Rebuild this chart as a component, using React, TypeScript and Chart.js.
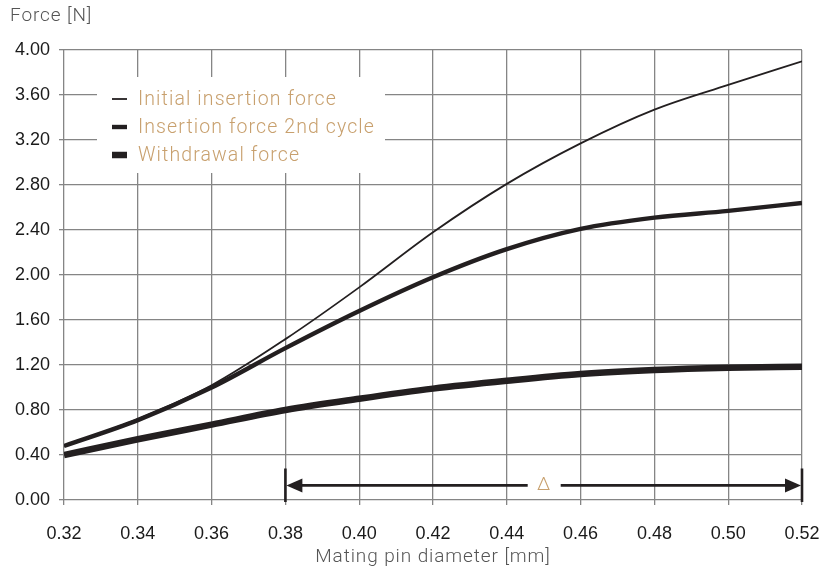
import React, { useEffect, useRef } from "react";
import { Chart, registerables } from "chart.js";

Chart.register(...registerables);

const xValues = [0.32, 0.34, 0.36, 0.38, 0.4, 0.42, 0.44, 0.46, 0.48, 0.5, 0.52];
const initialInsertion = [0.48, 0.72, 1.02, 1.43, 1.89, 2.38, 2.81, 3.17, 3.47, 3.69, 3.9];
const insertion2nd = [0.48, 0.71, 1.0, 1.35, 1.68, 1.98, 2.23, 2.41, 2.51, 2.57, 2.64];
const withdrawal = [0.4, 0.54, 0.67, 0.8, 0.9, 0.99, 1.06, 1.12, 1.155, 1.175, 1.185];

const seriesLabels = ["Initial insertion force", "Insertion force 2nd cycle", "Withdrawal force"];
const seriesWidths = [1.8, 4.4, 6.5];

const yTitle = "Force [N]";
const xTitle = "Mating pin diameter [mm]";
const deltaLabel = "Δ";
const deltaRange = [0.38, 0.52];
const deltaLevel = 0.13;
const deltaBarTop = 0.28;

const LINE = "#231f20";
const GRID = "#858585";
const TAN = "#c8a06e";
const LABEL_FONT = "Roboto, 'Liberation Sans', sans-serif";
const TICK_FONT = "'Liberation Sans', Arial, sans-serif";

const toPoints = (ys: number[]) => xValues.map((x, i) => ({ x, y: ys[i] }));

const overlayPlugin = {
  id: "overlay",
  beforeDatasetsDraw(chart: any) {
    const ctx = chart.ctx;
    const area = chart.chartArea;
    ctx.save();
    const bx = area.left + 33;
    const by = area.top + 27;
    ctx.fillStyle = "#ffffff";
    ctx.fillRect(bx, by, 288, 96);
    ctx.font = `300 19.5px ${LABEL_FONT}`;
    (ctx as any).letterSpacing = "1.1px";
    ctx.textBaseline = "middle";
    ctx.textAlign = "left";
    seriesLabels.forEach((lab, i) => {
      const y = by + 22 + i * 28;
      ctx.strokeStyle = LINE;
      ctx.lineWidth = seriesWidths[i];
      ctx.beginPath();
      ctx.moveTo(bx + 15, y);
      ctx.lineTo(bx + 30, y);
      ctx.stroke();
      ctx.fillStyle = TAN;
      ctx.fillText(lab, bx + 41, y + 1);
    });
    ctx.restore();
  },
  afterDatasetsDraw(chart: any) {
    const ctx = chart.ctx;
    const area = chart.chartArea;
    const xs = chart.scales.x;
    const ys = chart.scales.y;
    const x0 = xs.getPixelForValue(deltaRange[0]);
    const x1 = xs.getPixelForValue(deltaRange[1]);
    const yl = ys.getPixelForValue(deltaLevel);
    const yt = ys.getPixelForValue(deltaBarTop);
    const yb = ys.getPixelForValue(0) + 2;
    const mid = (x0 + x1) / 2;
    ctx.save();
    ctx.strokeStyle = LINE;
    ctx.fillStyle = LINE;
    ctx.lineWidth = 2.6;
    ctx.beginPath();
    ctx.moveTo(x0, yt);
    ctx.lineTo(x0, yb);
    ctx.moveTo(x1, yt);
    ctx.lineTo(x1, yb);
    ctx.stroke();
    ctx.lineWidth = 2.6;
    ctx.beginPath();
    ctx.moveTo(x0 + 14, yl);
    ctx.lineTo(mid - 16, yl);
    ctx.moveTo(mid + 17, yl);
    ctx.lineTo(x1 - 14, yl);
    ctx.stroke();
    ctx.beginPath();
    ctx.moveTo(x0 + 1, yl);
    ctx.lineTo(x0 + 17, yl - 7);
    ctx.lineTo(x0 + 17, yl + 7);
    ctx.closePath();
    ctx.fill();
    ctx.beginPath();
    ctx.moveTo(x1 - 1, yl);
    ctx.lineTo(x1 - 17, yl - 7);
    ctx.lineTo(x1 - 17, yl + 7);
    ctx.closePath();
    ctx.fill();
    ctx.fillStyle = TAN;
    ctx.font = `300 19px ${LABEL_FONT}`;
    ctx.textAlign = "center";
    ctx.textBaseline = "middle";
    ctx.fillText(deltaLabel, mid, yl);
    ctx.fillStyle = "#555555";
    ctx.font = `300 19px ${LABEL_FONT}`;
    (ctx as any).letterSpacing = "0.9px";
    ctx.textAlign = "left";
    ctx.textBaseline = "middle";
    ctx.fillText(yTitle, 10, 16);
    ctx.textAlign = "center";
    ctx.fillText(xTitle, (area.left + area.right) / 2, 557);
    ctx.restore();
  },
};

export default function App() {
  const ref = useRef<HTMLCanvasElement | null>(null);
  useEffect(() => {
    if (!ref.current) return;
    const chart = new Chart(ref.current, {
      type: "line",
      data: {
        datasets: [
          { label: seriesLabels[0], data: toPoints(initialInsertion), borderWidth: seriesWidths[0] },
          { label: seriesLabels[1], data: toPoints(insertion2nd), borderWidth: seriesWidths[1] },
          { label: seriesLabels[2], data: toPoints(withdrawal), borderWidth: seriesWidths[2] },
        ].map((d) => ({
          ...d,
          borderColor: LINE,
          backgroundColor: LINE,
          pointRadius: 0,
          cubicInterpolationMode: "monotone" as const,
          fill: false,
        })),
      },
      options: {
        animation: false,
        responsive: false,
        maintainAspectRatio: false,
        layout: { padding: { top: 50, right: 36, left: 0, bottom: 0 } },
        plugins: { legend: { display: false }, tooltip: { enabled: false }, title: { display: false } },
        scales: {
          x: {
            type: "linear",
            min: 0.32,
            max: 0.52,
            afterFit: (s: any) => {
              s.height = 72;
            },
            ticks: {
              stepSize: 0.02,
              color: "#1a1a1a",
              font: { family: TICK_FONT, size: 18 },
              padding: 18,
              maxRotation: 0,
              callback: (v: any) => Number(v).toFixed(2),
            },
            grid: { color: GRID, lineWidth: 1.3, tickLength: 5, drawTicks: true },
            border: { display: false },
          },
          y: {
            min: 0,
            max: 4,
            afterFit: (s: any) => {
              s.width = 64;
            },
            ticks: {
              stepSize: 0.4,
              color: "#1a1a1a",
              font: { family: TICK_FONT, size: 18 },
              padding: 9,
              callback: (v: any) => Number(v).toFixed(2),
            },
            grid: { color: GRID, lineWidth: 1.3, tickLength: 5, drawTicks: true },
            border: { display: false },
          },
        },
      },
      plugins: [overlayPlugin],
    });
    return () => chart.destroy();
  }, []);
  return (
    <div style={{ position: "fixed", left: 0, top: 0, width: 838, height: 572, background: "#fff" }}>
      <canvas ref={ref} width={838} height={572} style={{ width: 838, height: 572 }} />
    </div>
  );
}
